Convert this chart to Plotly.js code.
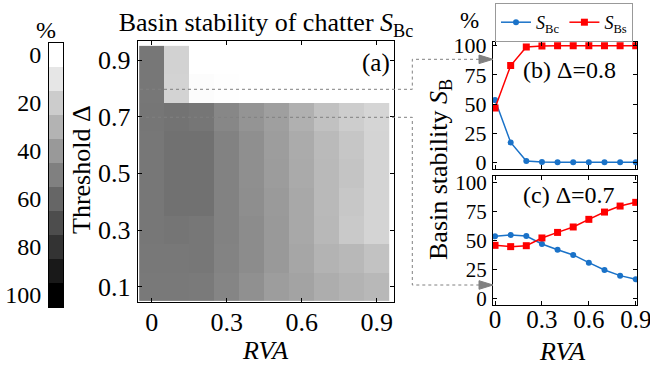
<!DOCTYPE html>
<html>
<head>
<meta charset="utf-8">
<script src="https://cdn.plot.ly/plotly-3.0.1.min.js"></script>
<style>html,body{margin:0;padding:0;background:#fff;}#chart{width:650px;height:369px;}</style>
</head>
<body>
<div id="chart"></div>
<script>
// ---- data ----
const rva = [0, 0.1, 0.2, 0.3, 0.4, 0.5, 0.6, 0.7, 0.8, 0.9];
const delta = [0.1, 0.2, 0.3, 0.4, 0.5, 0.6, 0.7, 0.8, 0.9];
// basin stability of chatter S_Bc (%) for each threshold row (delta) and RVA column
const sbcRow01 = [52.5, 52.5, 52, 48, 43.5, 38.5, 36, 32, 30, 28];
const sbcRow02 = [53, 53, 53.5, 48.5, 45, 40, 35, 30, 28, 24];
const sbcRow03 = [53.5, 54, 53.5, 49, 45, 40, 34, 28, 21, 17];
const sbcRow04 = [53.5, 55.5, 55.5, 49, 44.5, 39.5, 34, 27.5, 22, 17];
const sbcRow05 = [53.5, 55.5, 55.5, 49, 44, 39, 33.5, 27.5, 23, 17];
const sbcRow06 = [53.5, 55.5, 55.5, 49, 44, 38.5, 33, 27, 22.5, 17];
const sbcRow07 = [53.6, 54.8, 53.9, 47.0, 42.0, 37.5, 30.8, 24.5, 19.6, 16.4];
const sbcRow08 = [53.4, 17.1, 1.1, 0.2, 0, 0, 0, 0, 0, 0];
const sbcRow09 = [53.4, 17.5, 0, 0, 0, 0, 0, 0, 0, 0];
// panel (b) delta = 0.8
const sbcB = [53.4, 17.1, 1.1, 0.2, 0, 0, 0, 0, 0, 0];
const sbsB = [46.6, 82.9, 98.9, 99.8, 100, 100, 100, 100, 100, 100];
// panel (c) delta = 0.7
const sbcC = [53.6, 54.8, 53.9, 47.0, 42.0, 37.5, 30.8, 24.5, 19.6, 16.4];
const sbsC = [45.8, 44.7, 45.5, 52.2, 57.0, 61.7, 68.3, 74.6, 79.8, 83.0];
// colour bar levels and ticks
const cbLevels = [0, 10, 20, 30, 40, 50, 60, 70, 80, 90, 100];
const cbTicks = [0, 20, 40, 60, 80, 100];
const xTicks = [0, 0.3, 0.6, 0.9];
const xTickText = ['0', '0.3', '0.6', '0.9'];
const yTicksA = [0.1, 0.3, 0.5, 0.7, 0.9];
const yTicksB = [0, 25, 50, 75, 100];

// ---- layout helpers ----
const W = 650, H = 369;
const FONT = '"Liberation Serif", "Times New Roman", serif';
const px = v => v / W;
const py = v => 1 - v / H;
const gray = [[0, '#ffffff'], [1, '#000000']];
const blue = '#1a72c8';
const red = '#ff0000';

const sbcMatrix = [sbcRow01, sbcRow02, sbcRow03, sbcRow04, sbcRow05, sbcRow06, sbcRow07, sbcRow08, sbcRow09];

const traces = [
  {type: 'heatmap', x: rva, y: delta, z: sbcMatrix, colorscale: gray, zmin: 0, zmax: 100,
   showscale: false, xaxis: 'x', yaxis: 'y', hoverinfo: 'skip'},
  {type: 'heatmap', x: [0], y: cbLevels, z: cbLevels.map(v => [v]), colorscale: gray, zmin: 0, zmax: 100,
   showscale: false, xaxis: 'x4', yaxis: 'y4', hoverinfo: 'skip'},
  {type: 'scatter', mode: 'lines+markers', x: rva, y: sbcB, name: '<i>S</i><sub>Bc</sub>',
   line: {color: blue, width: 1.5}, marker: {symbol: 'circle', size: 6, color: blue},
   xaxis: 'x2', yaxis: 'y2', showlegend: true},
  {type: 'scatter', mode: 'lines+markers', x: rva, y: sbsB, name: '<i>S</i><sub>Bs</sub>',
   line: {color: red, width: 1.5}, marker: {symbol: 'square', size: 7, color: red},
   xaxis: 'x2', yaxis: 'y2', showlegend: true},
  {type: 'scatter', mode: 'lines+markers', x: rva, y: sbcC, name: 'SBc c',
   line: {color: blue, width: 1.5}, marker: {symbol: 'circle', size: 6, color: blue},
   xaxis: 'x3', yaxis: 'y3', showlegend: false},
  {type: 'scatter', mode: 'lines+markers', x: rva, y: sbsC, name: 'SBs c',
   line: {color: red, width: 1.5}, marker: {symbol: 'square', size: 7, color: red},
   xaxis: 'x3', yaxis: 'y3', showlegend: false}
];

const axBase = {showline: true, linecolor: '#000', linewidth: 1, mirror: 'ticks', ticks: 'inside',
  ticklen: 4, tickcolor: '#000', showgrid: false, zeroline: false, fixedrange: true,
  ticklabeloverflow: 'allow',
  tickfont: {family: FONT, size: 26, color: '#000'}};

const ann = (text, x, y, size, extra) => Object.assign({text: text, x: px(x), y: py(y), xref: 'paper', yref: 'paper',
  showarrow: false, font: {family: FONT, size: size, color: '#000'}, xanchor: 'center', yanchor: 'middle'}, extra || {});

const layout = {
  width: W, height: H, margin: {l: 0, r: 0, t: 0, b: 0},
  paper_bgcolor: '#fff', plot_bgcolor: '#fff',
  font: {family: FONT, color: '#000'},
  title: {text: 'Basin stability of chatter <i>S</i><sub>Bc</sub>', font: {family: FONT, size: 26, color: '#000'},
    x: px(266), y: py(22), xanchor: 'center', yanchor: 'middle', xref: 'paper', yref: 'paper'},
  xaxis: Object.assign({}, axBase, {domain: [px(137.7), px(394.3)], range: [-0.056, 0.97], anchor: 'y',
    tickvals: xTicks, ticktext: xTickText, ticklabelstandoff: -3}),
  yaxis: Object.assign({}, axBase, {domain: [py(302), py(40.5)], range: [0.046, 0.969], anchor: 'x',
    tickvals: yTicksA, ticklabelstandoff: 1}),
  xaxis2: Object.assign({}, axBase, {domain: [px(493), px(637)], range: [-0.013, 0.908], anchor: 'y2',
    tickvals: xTicks, showticklabels: false}),
  yaxis2: Object.assign({}, axBase, {domain: [py(169), py(41.7)], range: [-5.7, 103.4], anchor: 'x2',
    tickvals: yTicksB, ticklabelstandoff: 1, tickfont: {family: FONT, size: 22, color: '#000'}}),
  xaxis3: Object.assign({}, axBase, {domain: [px(493), px(637)], range: [-0.013, 0.908], anchor: 'y3',
    tickvals: xTicks, ticktext: xTickText, ticklabelstandoff: -8, tickfont: {family: FONT, size: 25, color: '#000'}}),
  yaxis3: Object.assign({}, axBase, {domain: [py(305), py(176)], range: [-5.8, 105.8], anchor: 'x3',
    tickvals: yTicksB, ticklabelstandoff: 1, tickfont: {family: FONT, size: 21, color: '#000'}}),
  xaxis4: {domain: [px(49), px(63.3)], range: [-0.5, 0.5], anchor: 'y4', showline: true, mirror: true,
    linecolor: '#000', linewidth: 1, ticks: '', showticklabels: false, showgrid: false, zeroline: false, fixedrange: true},
  yaxis4: {domain: [py(307), py(43)], range: [105, -5], anchor: 'x4', showline: true, mirror: true,
    linecolor: '#000', linewidth: 1, ticks: '', tickvals: cbTicks, ticklabelstandoff: 2, showgrid: false, zeroline: false,
    fixedrange: true, ticklabeloverflow: 'allow', tickfont: {family: FONT, size: 24, color: '#000'}},
  showlegend: true,
  legend: {orientation: 'h', x: px(495), y: py(3), xanchor: 'left', yanchor: 'top',
    bordercolor: '#999', borderwidth: 1, bgcolor: '#fff', font: {family: FONT, size: 18, color: '#000'},
    itemwidth: 30, tracegroupgap: 0, valign: 'middle'},
  annotations: [
    ann('%', 46, 30, 24),
    ann('%', 469, 21, 23),
    ann('(a)', 376, 63, 25),
    ann('(b) Δ=0.8', 569, 70, 24),
    ann('(c) Δ=0.7', 569, 195, 24),
    ann('Threshold Δ', 81, 170, 26, {textangle: -90}),
    ann('<i>RVA</i>', 265, 350, 26),
    ann('<i>RVA</i>', 562, 351, 26),
    ann('Basin stability <i>S</i><sub>B</sub>', 440, 170, 26, {textangle: -90})
  ],
  shapes: [
    {type: 'path', xref: 'paper', yref: 'paper', layer: 'above',
     path: `M${px(140)},${py(89.3)} L${px(412.3)},${py(89.3)} L${px(412.3)},${py(59.3)} L${px(480)},${py(59.3)}`,
     line: {color: '#808080', width: 1, dash: 'dot'}},
    {type: 'path', xref: 'paper', yref: 'paper', layer: 'above',
     path: `M${px(140)},${py(117.3)} L${px(412.3)},${py(117.3)} L${px(412.3)},${py(285)} L${px(480)},${py(285)}`,
     line: {color: '#808080', width: 1, dash: 'dot'}},
    {type: 'path', xref: 'paper', yref: 'paper', layer: 'above',
     path: `M${px(479)},${py(55)} L${px(493)},${py(59.3)} L${px(479)},${py(63.6)} Z`,
     fillcolor: '#808080', line: {color: '#808080', width: 1}},
    {type: 'path', xref: 'paper', yref: 'paper', layer: 'above',
     path: `M${px(479)},${py(280.7)} L${px(493)},${py(285)} L${px(479)},${py(289.3)} Z`,
     fillcolor: '#808080', line: {color: '#808080', width: 1}}
  ]
};

Plotly.newPlot('chart', traces, layout, {displayModeBar: false, staticPlot: true});
</script>
</body>
</html>
